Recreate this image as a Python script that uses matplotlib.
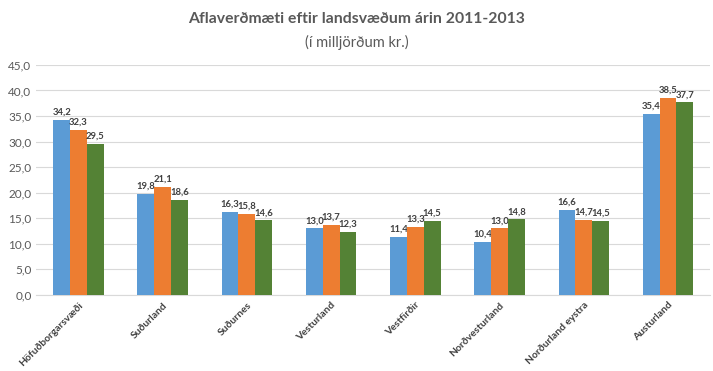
import numpy as np
import matplotlib.pyplot as plt

# Aflaverðmæti eftir landsvæðum, 2011-2013 (milljarðar kr.)
regions = ['Höfuðborgarsvæði', 'Suðurland', 'Suðurnes', 'Vesturland',
           'Vestfirðir', 'Norðvesturland', 'Norðurland eystra', 'Austurland']
val_2011 = [34.2, 19.8, 16.3, 13.0, 11.4, 10.4, 16.6, 35.4]
val_2012 = [32.3, 21.1, 15.8, 13.7, 13.3, 13.0, 14.7, 38.5]
val_2013 = [29.5, 18.6, 14.6, 12.3, 14.5, 14.8, 14.5, 37.7]
yticks = np.arange(0, 46, 5)

series = [val_2011, val_2012, val_2013]
colors = ['#5B9BD5', '#ED7D31', '#548235']

plt.rcParams['font.family'] = ['Lato', 'DejaVu Sans']

fig = plt.figure(figsize=(7.13, 3.71), dpi=100)
ax = fig.add_axes([0.051, 0.205, 0.945, 0.62])

x = np.arange(len(regions))
w = 0.2
for i, vals in enumerate(series):
    pos = x + (i - 1) * w
    ax.bar(pos, vals, w, color=colors[i], zorder=3)
    for p, v in zip(pos, vals):
        ax.text(p, v + 0.6, ('%.1f' % v).replace('.', ','), ha='center', va='bottom',
                fontsize=6.8, fontweight='bold', color='#404040')

ax.set_xlim(-0.5, len(regions) - 0.5)
ax.set_ylim(0, 45)
ax.set_yticks(yticks)
ax.set_yticklabels([('%.1f' % t).replace('.', ',') for t in yticks], fontsize=8.5, color='#595959')
ax.set_xticks(x)
ax.set_xticklabels(regions, rotation=45, ha='right', rotation_mode='anchor',
                   fontsize=7.4, fontweight='bold', color='#404040')
ax.yaxis.grid(True, color='#D9D9D9', linewidth=0.8, zorder=0)
ax.tick_params(axis='both', length=0)
ax.tick_params(axis='x', pad=4)
for s in ['top', 'right', 'left']:
    ax.spines[s].set_visible(False)
ax.spines['bottom'].set_color('#D9D9D9')

fig.text(0.5, 0.95, 'Aflaverðmæti eftir landsvæðum árin 2011-2013', ha='center', va='center',
         fontsize=11.3, fontweight='bold', color='#595959')
fig.text(0.5, 0.885, '(í milljörðum kr.)', ha='center', va='center',
         fontsize=10.5, color='#595959')

fig.savefig('out.png', dpi=100)
